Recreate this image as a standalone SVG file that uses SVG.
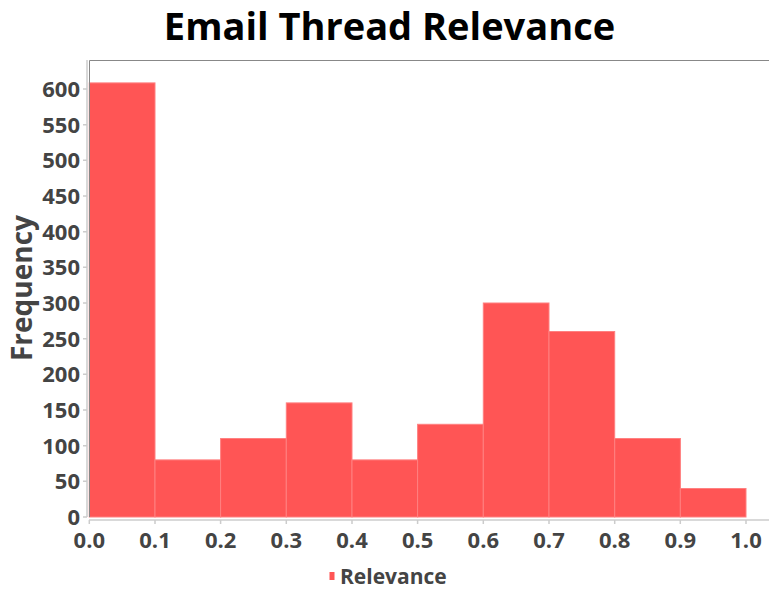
<svg xmlns="http://www.w3.org/2000/svg" width="769" height="589" viewBox="0 0 769 589">
<style>
.t{font-family:"Open Sans","Liberation Sans",sans-serif;font-weight:bold;fill:#444;}
.yl{font-size:22px;text-anchor:end;}
.xl{font-size:22px;text-anchor:middle;}
.bar{fill:#ff5555;stroke:#ff8080;stroke-width:1;}
.ax{stroke:#cccccc;stroke-width:1.5;fill:none;}
.fr{stroke:#888888;stroke-width:1;fill:none;}
</style>
<rect width="769" height="589" fill="#ffffff"/>
<text x="389.5" y="40" font-family="'Open Sans','Liberation Sans',sans-serif" font-weight="bold" font-size="38" text-anchor="middle" fill="#000000">Email Thread Relevance</text>
<g id="bars">
<rect class="bar" x="89.3" y="82.9" width="65.7" height="434.1"/>
<rect class="bar" x="155" y="459.9" width="65.7" height="57.1"/>
<rect class="bar" x="220.6" y="438.5" width="65.7" height="78.5"/>
<rect class="bar" x="286.3" y="402.9" width="65.7" height="114.1"/>
<rect class="bar" x="352" y="459.9" width="65.7" height="57.1"/>
<rect class="bar" x="417.6" y="424.3" width="65.7" height="92.7"/>
<rect class="bar" x="483.3" y="303" width="65.7" height="214"/>
<rect class="bar" x="549" y="331.5" width="65.7" height="185.5"/>
<rect class="bar" x="614.7" y="438.5" width="65.7" height="78.5"/>
<rect class="bar" x="680.3" y="488.5" width="65.7" height="28.5"/>
</g>
<g id="axes">
<path class="fr" d="M89.5 517 V60.5 H769"/>
<path class="ax" d="M87 60 V517"/>
<path class="ax" d="M89 520 H769"/>
<path class="ax" d="M89.3 520v4M155 520v4M220.6 520v4M286.3 520v4M352 520v4M417.6 520v4M483.3 520v4M549 520v4M614.7 520v4M680.3 520v4M746 520v4"/>
<path class="ax" d="M83 517h4M83 481.3h4M83 445.7h4M83 410h4M83 374.3h4M83 338.7h4M83 303h4M83 267.3h4M83 231.7h4M83 196h4M83 160.3h4M83 124.7h4M83 89h4"/>
</g>
<g id="yticks" class="t yl">
<text x="80" y="525">0</text>
<text x="80" y="489.3">50</text>
<text x="80" y="453.7">100</text>
<text x="80" y="418">150</text>
<text x="80" y="382.3">200</text>
<text x="80" y="346.7">250</text>
<text x="80" y="311">300</text>
<text x="80" y="275.3">350</text>
<text x="80" y="239.7">400</text>
<text x="80" y="204">450</text>
<text x="80" y="168.3">500</text>
<text x="80" y="132.7">550</text>
<text x="80" y="97">600</text>
</g>
<g id="xticks" class="t xl">
<text x="89.3" y="548">0.0</text>
<text x="155" y="548">0.1</text>
<text x="220.6" y="548">0.2</text>
<text x="286.3" y="548">0.3</text>
<text x="352" y="548">0.4</text>
<text x="417.6" y="548">0.5</text>
<text x="483.3" y="548">0.6</text>
<text x="549" y="548">0.7</text>
<text x="614.7" y="548">0.8</text>
<text x="680.3" y="548">0.9</text>
<text x="746" y="548">1.0</text>
</g>
<text class="t" font-size="28" text-anchor="middle" transform="translate(32 288) rotate(-90)">Frequency</text>
<g id="legend">
<rect x="329.5" y="572" width="5" height="8" fill="#ff5555"/>
<text class="t" x="340" y="584" font-size="21">Relevance</text>
</g>
</svg>
